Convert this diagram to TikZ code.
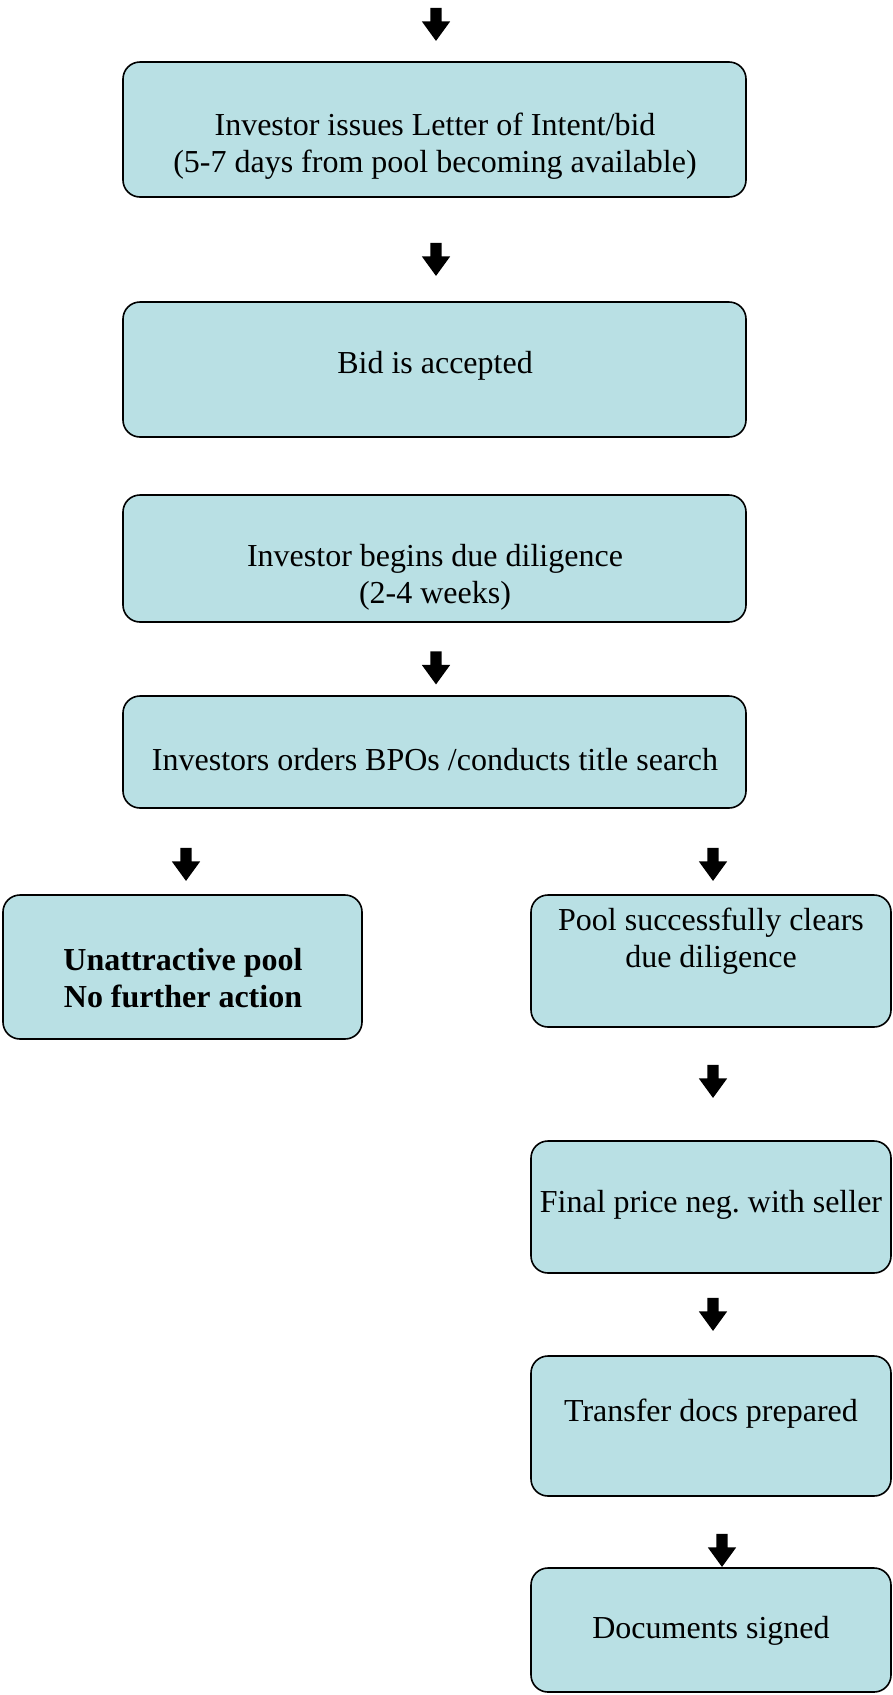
\documentclass[tikz,border=0pt]{standalone}
\usepackage{fontspec}
\setmainfont{Liberation Serif}
\definecolor{boxblue}{RGB}{185, 224, 228}
\usepackage{tikz}
\usetikzlibrary{shapes.arrows, positioning, calc}

\begin{document}
\begin{tikzpicture}[x=1pt, y=-1pt,
  stepbox/.style={draw=black, line width=1.6pt, fill=boxblue, rounded corners=17pt},
  steptext/.style={align=center, inner sep=0pt, font=\fontsize{32}{37}\selectfont},
  downarrow/.style={single arrow, fill=black, draw=none, rotate=-90,
    inner xsep=0pt, inner ysep=5.5pt,
    minimum height=33pt, minimum width=28pt, single arrow head extend=8.5pt,
    single arrow tip angle=72}]
  \useasboundingbox (0,0) rectangle (892,1695);

  % Top column
  \node[downarrow] (arrtop) at (436,20.5) {};
  \node[stepbox, minimum width=623pt, minimum height=135pt] (loi) at (434.5,129.5) {};
  \node[steptext] (loitext) at (435,146) {Investor issues Letter of Intent/bid\\(5-7 days from pool becoming available)};

  \node[downarrow] (arrloi) at (436,255.5) {};
  \node[stepbox, minimum width=623pt, minimum height=135pt] (accept) at (434.5,369.5) {};
  \node[steptext] (accepttext) at (435,366) {Bid is accepted};

  \node[stepbox, minimum width=623pt, minimum height=127pt] (diligence) at (434.5,558.5) {};
  \node[steptext] (diligencetext) at (435,577) {Investor begins due diligence\\(2-4 weeks)};

  \node[downarrow] (arrdil) at (436,664) {};
  \node[stepbox, minimum width=623pt, minimum height=112pt] (bpo) at (434.5,752) {};
  \node[steptext] (bpotext) at (435,760) {Investors orders BPOs /conducts title search};

  % Split into two outcomes
  \node[downarrow] (arrleft) at (186,860.5) {};
  \node[downarrow] (arrright) at (713,860.5) {};

  \node[stepbox, minimum width=359pt, minimum height=144pt] (unattr) at (182.5,967) {};
  \node[steptext, font=\fontsize{32}{37}\selectfont\bfseries] (unattrtext) at (183,978) {Unattractive pool\\No further action};

  \node[stepbox, minimum width=360pt, minimum height=132pt] (clears) at (711,961) {};
  \node[steptext] (clearstext) at (711,941) {Pool successfully clears\\due diligence};

  % Right column
  \node[downarrow] (arrclears) at (713,1077.5) {};
  \node[stepbox, minimum width=360pt, minimum height=132pt] (price) at (711,1207) {};
  \node[steptext] (pricetext) at (711,1205) {Final price neg.\ with seller};

  \node[downarrow] (arrprice) at (713,1310.5) {};
  \node[stepbox, minimum width=360pt, minimum height=140pt] (transfer) at (711,1426) {};
  \node[steptext] (transfertext) at (711,1414) {Transfer docs prepared};

  \node[downarrow] (arrtransfer) at (722,1546.5) {};
  \node[stepbox, minimum width=360pt, minimum height=124pt] (signed) at (711,1630) {};
  \node[steptext] (signedtext) at (711,1631) {Documents signed};
\end{tikzpicture}
\end{document}
